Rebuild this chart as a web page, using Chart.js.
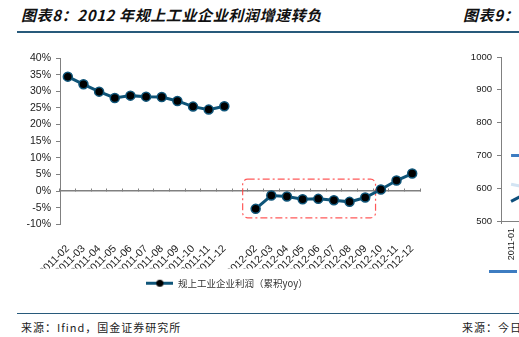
<!DOCTYPE html>
<html lang="zh-CN">
<head>
<meta charset="utf-8">
<script src="https://cdn.jsdelivr.net/npm/chart.js@4.4.1/dist/chart.umd.min.js"></script>
<style>
  html, body { margin: 0; padding: 0; background: #fff; }
  body { position: relative; width: 519px; height: 337px; overflow: hidden; }
  .title { position: absolute; top: 4px; font: italic bold 15px "Noto Sans CJK SC", sans-serif; color: #111; letter-spacing: 0.6px; white-space: nowrap; }
  .rule { position: absolute; left: 17px; right: 0; height: 1.5px; background: #285a7b; }
  .source { position: absolute; top: 319px; font: 11px "Noto Sans CJK SC", sans-serif; color: #222; letter-spacing: 1px; white-space: nowrap; }
  .swatch { position: absolute; left: 489px; top: 270px; width: 28px; height: 3px; background: #3d7cc1; }
  #profitChart { position: absolute; left: 0; top: 40px; }
  #priceChart { position: absolute; left: 430px; top: 40px; }
</style>
</head>
<body>
<div class="title" style="left:21px">图表8：2012 年规上工业企业利润增速转负</div>
<div class="title" style="left:463px">图表9：</div>
<div class="rule" style="top:31px"></div>

<canvas id="profitChart" width="440" height="258"></canvas>
<canvas id="priceChart" width="116" height="258"></canvas>
<div class="swatch"></div>

<div class="rule" style="top:312.5px"></div>
<div class="source" style="left:21px">来源：Ifind，国金证券研究所</div>
<div class="source" style="left:462px">来源：今日</div>

<script>
// --- left chart: cumulative YoY growth of industrial profits ---
const months = [
  '2011-02', '2011-03', '2011-04', '2011-05', '2011-06', '2011-07',
  '2011-08', '2011-09', '2011-10', '2011-11', '2011-12', '',
  '2012-02', '2012-03', '2012-04', '2012-05', '2012-06', '2012-07',
  '2012-08', '2012-09', '2012-10', '2012-11', '2012-12'
];
// January is never published on its own, so that slot stays empty
const profitYoy = [
  34.4, 32.1, 29.9, 28.0, 28.7, 28.4, 28.3, 27.1, 25.4, 24.5, 25.5, null,
  -5.3, -1.3, -1.6, -2.4, -2.3, -2.7, -3.2, -1.9, 0.5, 3.2, 5.3
];
const seriesName = '规上工业企业利润（累积yoy）';
const yTicks = { min: -10, max: 40, step: 5 };

// dashed frame around the months where growth turned negative (category index / value units)
const boxSpan = [11.17, 19.66];
const boxRange = [-8.0, 3.6];

// --- right chart (cut off at the page edge) ---
const priceMonths = ['2011-01', '2011-02'];
const darkSeries = [560, 592];
const lightSeries = [612, 600];
const blueSeries = [700, 700];

const LINE_COLOR = '#0f5579';
const AXIS_COLOR = '#808080';
const TICK_FONT = { family: '"Liberation Sans", Arial, sans-serif', size: 10.5 };

const highlightBox = {
  id: 'highlightBox',
  beforeDatasetsDraw(chart) {
    const { ctx, scales } = chart;
    const left = scales.x.getPixelForValue(boxSpan[0]);
    const right = scales.x.getPixelForValue(boxSpan[1]);
    const top = scales.y.getPixelForValue(boxRange[1]);
    const bottom = scales.y.getPixelForValue(boxRange[0]);
    ctx.save();
    ctx.strokeStyle = 'rgba(255, 60, 60, 0.85)';
    ctx.lineWidth = 1.2;
    ctx.setLineDash([7, 3, 2, 3]);
    ctx.beginPath();
    ctx.roundRect(left, top, right - left, bottom - top, 5);
    ctx.stroke();
    ctx.restore();
  }
};

// centre the legend under the plot area rather than under the whole canvas
const legendUnderPlot = {
  id: 'legendUnderPlot',
  afterLayout(chart) {
    if (chart.legend) chart.legend.left = chart.chartArea.left - 26;
  }
};

// line with a dot through it, used as the legend symbol
function legendSwatch() {
  const c = document.createElement('canvas');
  c.width = 27;
  c.height = 11;
  const g = c.getContext('2d');
  g.strokeStyle = LINE_COLOR;
  g.lineWidth = 3;
  g.beginPath();
  g.moveTo(0, 5.5);
  g.lineTo(27, 5.5);
  g.stroke();
  g.fillStyle = '#000';
  g.beginPath();
  g.arc(13.5, 5.5, 3.6, 0, Math.PI * 2);
  g.fill();
  return c;
}
const swatch = legendSwatch();

new Chart(document.getElementById('profitChart'), {
  type: 'line',
  data: {
    labels: months,
    datasets: [{
      label: seriesName,
      data: profitYoy,
      borderColor: LINE_COLOR,
      borderWidth: 3,
      pointRadius: 4.5,
      pointBackgroundColor: '#000',
      pointBorderColor: LINE_COLOR,
      pointBorderWidth: 1.5,
      spanGaps: false,
      tension: 0
    }]
  },
  options: {
    responsive: false,
    animation: false,
    layout: { padding: { top: 18, right: 20, left: 0, bottom: 0 } },
    plugins: {
      tooltip: { enabled: false },
      legend: {
        position: 'bottom',
        labels: {
          usePointStyle: true,
          pointStyleWidth: 27,
          boxHeight: 10,
          padding: 10,
          color: '#333',
          font: { family: '"Noto Sans CJK SC", sans-serif', size: 9.5 },
          generateLabels: () => [{
            text: seriesName,
            pointStyle: swatch,
            fillStyle: 'transparent',
            strokeStyle: 'transparent',
            lineWidth: 0,
            fontColor: '#333',
            datasetIndex: 0
          }]
        }
      }
    },
    scales: {
      x: {
        type: 'category',
        position: 'bottom',
        offset: true,
        grid: { display: false },
        border: { display: false },
        ticks: {
          autoSkip: false,
          minRotation: 45,
          maxRotation: 45,
          padding: 10,
          color: '#1a1a1a',
          font: TICK_FONT
        },
        afterFit(scale) { scale.height = 44; }
      },
      xZero: {
        type: 'category',
        axis: 'x',
        position: { y: 0 },
        offset: true,
        grid: {
          offset: true,
          drawOnChartArea: false,
          drawTicks: true,
          tickLength: -3,
          color: AXIS_COLOR
        },
        border: { display: true, color: AXIS_COLOR, width: 1.5 },
        ticks: { display: false }
      },
      y: {
        min: yTicks.min,
        max: yTicks.max,
        grid: { drawOnChartArea: false, drawTicks: true, tickLength: 4, color: AXIS_COLOR },
        border: { display: true, color: AXIS_COLOR, width: 1 },
        ticks: {
          stepSize: yTicks.step,
          padding: 5,
          color: '#1a1a1a',
          font: TICK_FONT,
          callback: v => v + '%'
        },
        afterFit(scale) { scale.width = 60; }
      }
    }
  },
  plugins: [highlightBox, legendUnderPlot]
});

new Chart(document.getElementById('priceChart'), {
  type: 'line',
  data: {
    labels: priceMonths,
    datasets: [
      { data: darkSeries, borderColor: '#0d4f7c', borderWidth: 3, pointRadius: 0 },
      { data: lightSeries, borderColor: '#d3e4f3', borderWidth: 3, pointRadius: 0 },
      { data: blueSeries, borderColor: '#3d7cc1', borderWidth: 3, pointRadius: 0 }
    ]
  },
  options: {
    responsive: false,
    animation: false,
    layout: { padding: { top: 17, right: 0, left: 0, bottom: 0 } },
    plugins: { legend: { display: false }, tooltip: { enabled: false } },
    scales: {
      x: {
        offset: true,
        grid: { offset: true, drawOnChartArea: false, tickLength: 3, color: AXIS_COLOR },
        border: { display: true, color: AXIS_COLOR, width: 1 },
        ticks: {
          minRotation: 90,
          maxRotation: 90,
          padding: 4,
          color: '#1a1a1a',
          font: { family: '"Liberation Sans Narrow", "Liberation Sans", sans-serif', size: 9 }
        },
        afterFit(scale) { scale.height = 77; }
      },
      y: {
        min: 500,
        max: 1000,
        grid: { drawOnChartArea: false, tickLength: 4, color: AXIS_COLOR },
        border: { display: true, color: AXIS_COLOR, width: 1 },
        ticks: {
          stepSize: 100,
          padding: 5,
          color: '#1a1a1a',
          font: { family: '"Liberation Sans", Arial, sans-serif', size: 9.5 },
          callback: v => String(v)
        },
        afterFit(scale) { scale.width = 71; }
      }
    }
  }
});
</script>
</body>
</html>
